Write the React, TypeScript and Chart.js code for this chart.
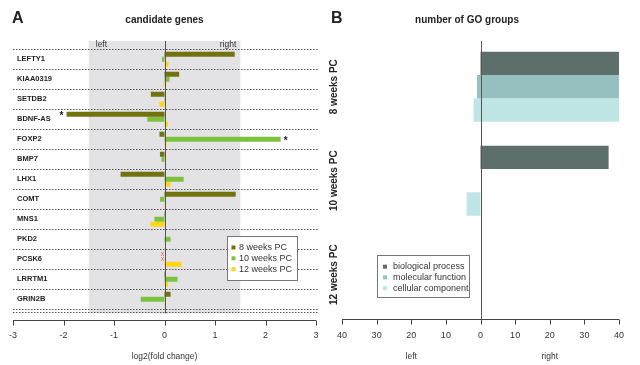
import React, { useEffect, useRef } from "react";
import { Chart, registerables } from "chart.js";
Chart.register(...registerables);

// ---------- Panel A data ----------
const genes = ["LEFTY1", "KIAA0319", "SETDB2", "BDNF-AS", "FOXP2", "BMP7", "LHX1", "COMT", "MNS1", "PKD2", "PCSK6", "LRRTM1", "GRIN2B"];
const weeks8 = [1.39, 0.29, -0.27, -1.94, -0.1, -0.09, -0.87, 1.41, 0.02, 0, null, 0.02, 0.12];
const weeks10 = [-0.05, 0.1, 0.02, -0.34, 2.3, -0.06, 0.38, -0.09, -0.2, 0.12, null, 0.26, -0.47];
const weeks12 = [0.08, -0.02, -0.1, 0.07, 0.04, 0, 0.12, 0.03, -0.28, 0, 0.34, 0.07, -0.01];
const seriesA = ["8 weeks PC", "10 weeks PC", "12 weeks PC"];
const colorsA = ["#72720f", "#7cc23f", "#ffd51a"];
const ticksA = [-3, -2, -1, 0, 1, 2, 3];
const starsA = [{ gene: "BDNF-AS", series: 0, side: -1 }, { gene: "FOXP2", series: 1, side: 1 }];

// ---------- Panel B data ----------
const goCategories = ["8 weeks PC", "10 weeks PC", "12 weeks PC"];
const goSeries = ["biological process", "molecular function", "cellular component"];
const bpLeft = [0, 0, 0];
const bpRight = [40, 37, 0];
const mfLeft = [1, 0, 0];
const mfRight = [40, 0, 0];
const ccLeft = [2, 4, 0];
const ccRight = [40, 0, 0];
const colorsB = ["#5c6f6b", "#96c0bf", "#c0e5e5"];
const ticksB = [-40, -30, -20, -10, 0, 10, 20, 30, 40];

const FONT = '"Liberation Sans", Arial, Helvetica, sans-serif';

const leftPlugin = {
  id: "leftDecor",
  beforeDatasetsDraw(chart: any) {
    const { ctx, chartArea: ca, scales } = chart;
    const x = scales.x, y = scales.y;
    ctx.save();
    const gx0 = x.getPixelForValue(-1.5), gx1 = x.getPixelForValue(1.5);
    ctx.fillStyle = "#e3e3e5";
    ctx.fillRect(gx0, 41, gx1 - gx0, ca.bottom + 4 - 41);
    const rowH = ca.height / genes.length;
    ctx.strokeStyle = "#555";
    ctx.lineWidth = 1;
    ctx.setLineDash([1.5, 1.5]);
    const lines: number[] = [];
    for (let i = 0; i <= genes.length; i++) lines.push(y.getPixelForValue(0) - rowH / 2 + i * rowH);
    lines.push(ca.bottom + 3);
    for (const ly of lines) {
      ctx.beginPath();
      ctx.moveTo(13, Math.round(ly) + 0.5);
      ctx.lineTo(319, Math.round(ly) + 0.5);
      ctx.stroke();
    }
    ctx.setLineDash([]);
    ctx.restore();
  },
  afterDatasetsDraw(chart: any) {
    const { ctx, chartArea: ca, scales } = chart;
    const x = scales.x, y = scales.y;
    ctx.save();
    const zx = Math.round(x.getPixelForValue(0)) + 0.5;
    ctx.strokeStyle = "#555";
    ctx.lineWidth = 1;
    ctx.beginPath();
    ctx.moveTo(zx, 41);
    ctx.lineTo(zx, ca.bottom + 4);
    ctx.stroke();
    const rowH = ca.height / genes.length;
    const barH = (rowH * 0.75) / 3;
    // stars
    ctx.fillStyle = "#222";
    ctx.font = `bold 10px ${FONT}`;
    ctx.textAlign = "center";
    ctx.textBaseline = "middle";
    const data = [weeks8, weeks10, weeks12];
    for (const s of starsA) {
      const j = genes.indexOf(s.gene);
      const v = data[s.series][j] as number;
      const bx = x.getPixelForValue(v);
      const by = y.getPixelForValue(j) + (s.series - 1) * barH;
      ctx.fillText("*", bx + s.side * 5, by + 2);
    }
    // NA markers
    ctx.fillStyle = "#e06a5a";
    ctx.font = `7px ${FONT}`;
    for (let s = 0; s < 3; s++) {
      for (let j = 0; j < genes.length; j++) {
        if (data[s][j] === null) {
          const by = y.getPixelForValue(j) + (s - 1) * barH;
          ctx.fillText("x", x.getPixelForValue(0) - 2, by);
        }
      }
    }
    ctx.restore();
  },
  afterDraw(chart: any) {
    const { ctx, chartArea: ca, scales } = chart;
    const x = scales.x, y = scales.y;
    ctx.save();
    // gene labels
    ctx.fillStyle = "#222";
    ctx.font = `bold 7.5px ${FONT}`;
    ctx.textAlign = "left";
    ctx.textBaseline = "middle";
    genes.forEach((g, j) => ctx.fillText(g, 17, y.getPixelForValue(j)));
    // left/right
    ctx.font = `8.5px ${FONT}`;
    ctx.fillStyle = "#333";
    ctx.fillText("left", x.getPixelForValue(-1.5) + 7, 45);
    ctx.textAlign = "right";
    ctx.fillText("right", x.getPixelForValue(1.5) - 4, 45);
    // axis
    const ay = 320.5;
    ctx.strokeStyle = "#444";
    ctx.lineWidth = 1;
    ctx.beginPath();
    ctx.moveTo(x.getPixelForValue(ticksA[0]), ay);
    ctx.lineTo(x.getPixelForValue(ticksA[ticksA.length - 1]), ay);
    ticksA.forEach((t) => {
      const tx = Math.round(x.getPixelForValue(t)) + 0.5;
      ctx.moveTo(tx, ay);
      ctx.lineTo(tx, ay + 5);
    });
    ctx.stroke();
    ctx.textAlign = "center";
    ctx.fillStyle = "#333";
    ctx.font = `9px ${FONT}`;
    ticksA.forEach((t) => ctx.fillText(String(t), x.getPixelForValue(t), 336));
    ctx.font = `8.5px ${FONT}`;
    ctx.fillText("log2(fold change)", x.getPixelForValue(0), 357);
    // title + letter
    ctx.fillStyle = "#222";
    ctx.font = `bold 10px ${FONT}`;
    ctx.fillText("candidate genes", x.getPixelForValue(0), 20);
    ctx.textAlign = "left";
    ctx.font = `bold 16px ${FONT}`;
    ctx.fillText("A", 12, 19);
    // legend
    ctx.fillStyle = "#fff";
    ctx.fillRect(227, 236, 71, 45);
    ctx.strokeStyle = "#777";
    ctx.strokeRect(227.5, 236.5, 70, 44);
    ctx.font = `9px ${FONT}`;
    seriesA.forEach((s, i) => {
      const ly = 247.5 + i * 10.8;
      ctx.fillStyle = colorsA[i];
      ctx.fillRect(231.5, ly - 2, 4, 4);
      ctx.fillStyle = "#333";
      ctx.fillText(s, 239, ly);
    });
    ctx.restore();
  },
};

const rightPlugin = {
  id: "rightDecor",
  afterDatasetsDraw(chart: any) {
    const { ctx, scales } = chart;
    const x = scales.x;
    ctx.save();
    const zx = Math.round(x.getPixelForValue(0)) + 0.5;
    ctx.strokeStyle = "#555";
    ctx.lineWidth = 1;
    ctx.beginPath();
    ctx.moveTo(zx, 41);
    ctx.lineTo(zx, 319);
    ctx.stroke();
    ctx.restore();
  },
  afterDraw(chart: any) {
    const { ctx, scales } = chart;
    const x = scales.x, y = scales.y;
    ctx.save();
    const ay = 319.5;
    ctx.strokeStyle = "#444";
    ctx.lineWidth = 1;
    ctx.beginPath();
    ctx.moveTo(x.getPixelForValue(ticksB[0]), ay);
    ctx.lineTo(x.getPixelForValue(ticksB[ticksB.length - 1]), ay);
    ticksB.forEach((t) => {
      const tx = Math.round(x.getPixelForValue(t)) + 0.5;
      ctx.moveTo(tx, ay);
      ctx.lineTo(tx, ay + 5);
    });
    ctx.stroke();
    ctx.fillStyle = "#333";
    ctx.textAlign = "center";
    ctx.textBaseline = "middle";
    ctx.font = `9px ${FONT}`;
    ticksB.forEach((t) => ctx.fillText(String(Math.abs(t)), x.getPixelForValue(t), 336));
    ctx.font = `8.5px ${FONT}`;
    ctx.fillText("left", x.getPixelForValue(-20), 357);
    ctx.fillText("right", x.getPixelForValue(20), 357);
    // category labels rotated
    ctx.fillStyle = "#222";
    ctx.font = `bold 10px ${FONT}`;
    goCategories.forEach((c, i) => {
      ctx.save();
      ctx.translate(14, y.getPixelForValue(i));
      ctx.rotate(-Math.PI / 2);
      ctx.fillText(c, 0, 0);
      ctx.restore();
    });
    ctx.fillText("number of GO groups", 147, 20);
    ctx.textAlign = "left";
    ctx.font = `bold 16px ${FONT}`;
    ctx.fillText("B", 11, 19);
    // legend
    ctx.fillStyle = "#fff";
    ctx.fillRect(57, 255, 93, 43);
    ctx.strokeStyle = "#777";
    ctx.strokeRect(57.5, 255.5, 92, 42);
    ctx.font = `9px ${FONT}`;
    goSeries.forEach((s, i) => {
      const ly = 266.7 + i * 10.7;
      ctx.fillStyle = colorsB[i];
      ctx.fillRect(63, ly - 2, 4, 4);
      ctx.fillStyle = "#333";
      ctx.fillText(s, 73, ly);
    });
    ctx.restore();
  },
};

function span(l: number[], r: number[]) {
  return l.map((v, i) => (v === 0 && r[i] === 0 ? null : [-v, r[i]]));
}

export default function App() {
  const leftRef = useRef<HTMLCanvasElement>(null);
  const rightRef = useRef<HTMLCanvasElement>(null);
  useEffect(() => {
    document.body.style.margin = "0";
    const lc = new Chart(leftRef.current!, {
      type: "bar",
      data: {
        labels: genes,
        datasets: [weeks8, weeks10, weeks12].map((d, i) => ({
          label: seriesA[i],
          data: d,
          backgroundColor: colorsA[i],
          borderWidth: 0,
          categoryPercentage: 0.75,
          barPercentage: 1,
        })),
      } as any,
      options: {
        indexAxis: "y",
        animation: false,
        responsive: false,
        layout: { padding: { left: 13, right: 4, top: 49.3, bottom: 55.7 } },
        scales: {
          x: { type: "linear", min: -3, max: 3, display: false },
          y: { display: false },
        },
        plugins: { legend: { display: false }, tooltip: { enabled: false } },
      } as any,
      plugins: [leftPlugin],
    });
    const rc = new Chart(rightRef.current!, {
      type: "bar",
      data: {
        labels: goCategories,
        datasets: [
          span(bpLeft, bpRight),
          span(mfLeft, mfRight),
          span(ccLeft, ccRight),
        ].map((d, i) => ({
          label: goSeries[i],
          data: d,
          backgroundColor: colorsB[i],
          borderWidth: 0,
          categoryPercentage: 0.745,
          barPercentage: 1,
        })),
      } as any,
      options: {
        indexAxis: "y",
        animation: false,
        responsive: false,
        layout: { padding: { left: 22, right: 21, top: 39.7, bottom: 43.3 } },
        scales: {
          x: { type: "linear", min: -40, max: 40, display: false },
          y: { display: false },
        },
        plugins: { legend: { display: false }, tooltip: { enabled: false } },
      } as any,
      plugins: [rightPlugin],
    });
    return () => {
      lc.destroy();
      rc.destroy();
    };
  }, []);
  return (
    <div style={{ position: "absolute", left: 0, top: 0, width: 640, height: 365, background: "#fff" }}>
      <canvas ref={leftRef} width={320} height={365} style={{ position: "absolute", left: 0, top: 0 }} />
      <canvas ref={rightRef} width={320} height={365} style={{ position: "absolute", left: 320, top: 0 }} />
    </div>
  );
}
